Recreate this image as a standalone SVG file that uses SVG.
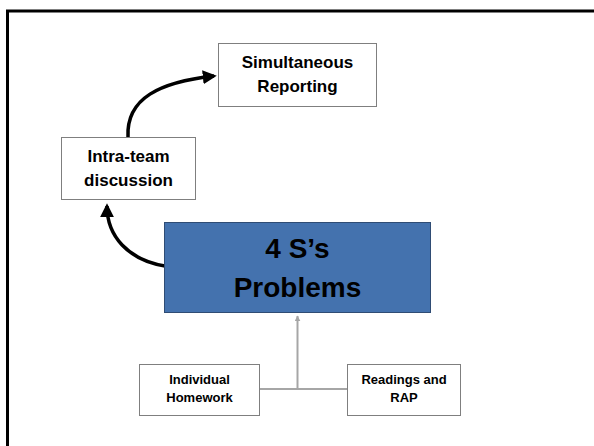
<svg xmlns="http://www.w3.org/2000/svg" width="594" height="446" viewBox="0 0 594 446">
<defs>
<style>
.box{fill:#ffffff;stroke:#7f7f7f;stroke-width:1}
.t{font-family:"Liberation Sans",Arial,sans-serif;font-weight:bold;fill:#000000;text-anchor:middle}
.big{font-size:17px}
.small{font-size:13px}
.huge{font-size:28px}
.curve{fill:none;stroke:#000000;stroke-width:3.5}
.gray{fill:none;stroke:#a6a6a6;stroke-width:2}
</style>
<marker id="ah" viewBox="0 0 10 10" refX="8" refY="5" markerWidth="4" markerHeight="4" markerUnits="strokeWidth" orient="auto">
<path d="M0,0 L10,5 L0,10 Z" fill="#000000"/>
</marker>
<marker id="ag" viewBox="0 0 10 10" refX="9" refY="5" markerWidth="3" markerHeight="3" markerUnits="strokeWidth" orient="auto">
<path d="M0,0 L10,5 L0,10 Z" fill="#a6a6a6"/>
</marker>
</defs>
<rect width="594" height="446" fill="#ffffff"/>
<rect x="7.5" y="11" width="600" height="460" fill="none" stroke="#000000" stroke-width="3"/>
<g id="connectors">
<path class="curve" d="M128,137 C126,98 160,82 214,76" marker-end="url(#ah)"/>
<path class="curve" d="M165,266 C128,260 107,236 107,206" marker-end="url(#ah)"/>
<path class="gray" d="M259,389 L347,389"/>
<path class="gray" d="M297.5,389 L297.5,316" marker-end="url(#ag)"/>
</g>
<g id="simultaneous">
<rect class="box" x="218.5" y="43.5" width="158" height="63"/>
<text class="t big" x="297.5" y="68">Simultaneous</text>
<text class="t big" x="297.5" y="92">Reporting</text>
</g>
<g id="intra">
<rect class="box" x="61.5" y="137.5" width="134" height="62"/>
<text class="t big" x="128.5" y="162">Intra-team</text>
<text class="t big" x="128.5" y="186">discussion</text>
</g>
<g id="problems">
<rect x="164.5" y="222.5" width="266" height="90" fill="#4472ae" stroke="#2f4c74" stroke-width="1"/>
<text class="t huge" x="297.5" y="258">4 S’s</text>
<text class="t huge" x="297.5" y="297">Problems</text>
</g>
<g id="homework">
<rect class="box" x="139.5" y="364.5" width="120" height="51"/>
<text class="t small" x="199.5" y="384">Individual</text>
<text class="t small" x="199.5" y="402">Homework</text>
</g>
<g id="readings">
<rect class="box" x="347.5" y="364.5" width="113" height="51"/>
<text class="t small" x="404" y="384">Readings and</text>
<text class="t small" x="404" y="402">RAP</text>
</g>
</svg>
